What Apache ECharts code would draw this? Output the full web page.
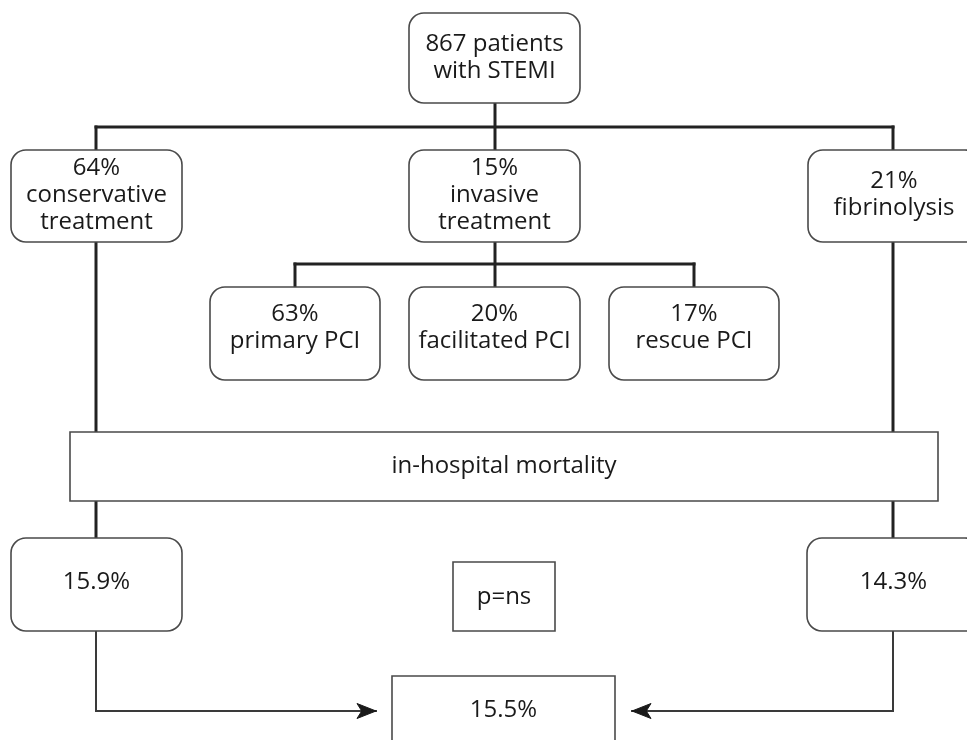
<!DOCTYPE html>
<html><head><meta charset="utf-8">
<script src="https://cdn.jsdelivr.net/npm/echarts@6/dist/echarts.min.js"></script>
<style>html,body{margin:0;padding:0;background:#fff}#c{width:967px;height:740px}</style>
</head><body><div id="c"></div>
<script>
// ---- data ----
const totalPatients = 867;
const diagnosis = 'STEMI';
const treatmentNames = ['conservative\ntreatment', 'invasive\ntreatment', 'fibrinolysis'];
const treatmentShares = [64, 15, 21];
const pciNames = ['primary PCI', 'facilitated PCI', 'rescue PCI'];
const pciShares = [63, 20, 17];
const outcomeName = 'in-hospital mortality';
const groupMortality = [15.9, 14.3]; // conservative, fibrinolysis
const overallMortality = 15.5;
const pValueText = 'p=ns';

// ---- layout (hidden axis units) ----
const boxLayout = {
  root:      [409, 13, 580, 103, 15, 0],
  cons:      [11, 150, 182, 242, 15, -1],
  inv:       [409, 150, 580, 242, 15, -1],
  fib:       [808, 150, 980, 242, 15, -1],
  pci0:      [210, 287, 380, 380, 15, -6],
  pci1:      [409, 287, 580, 380, 15, -6],
  pci2:      [609, 287, 779, 380, 15, -6],
  outcome:   [70, 432, 938, 501, 0, 0],
  mortCons:  [11, 538, 182, 631, 15, -2],
  mortFib:   [807, 538, 980, 631, 15, -2],
  pval:      [453, 562, 555, 631, 0, 1],
  overall:   [392, 676, 615, 770, 0, -13]
};
const thickLines = [
  [[495,103],[495,150]], [[96,127],[893,127]], [[96,127],[96,150]], [[893,127],[893,150]],
  [[495,242],[495,287]], [[295,264],[694,264]], [[295,264],[295,287]], [[694,264],[694,287]],
  [[96,242],[96,432]], [[893,242],[893,432]], [[96,501],[96,538]], [[893,501],[893,538]]
];
const arrowLines = [
  [[96,631],[96,711],[376,711]],
  [[893,631],[893,711],[632,711]]
];

const boxes = [
  {key:'root', text: totalPatients + ' patients\nwith ' + diagnosis},
  {key:'cons', text: treatmentShares[0] + '%\n' + treatmentNames[0]},
  {key:'inv',  text: treatmentShares[1] + '%\n' + treatmentNames[1]},
  {key:'fib',  text: treatmentShares[2] + '%\n' + treatmentNames[2]},
  {key:'pci0', text: pciShares[0] + '%\n' + pciNames[0]},
  {key:'pci1', text: pciShares[1] + '%\n' + pciNames[1]},
  {key:'pci2', text: pciShares[2] + '%\n' + pciNames[2]},
  {key:'outcome', text: outcomeName},
  {key:'mortCons', text: groupMortality[0].toFixed(1) + '%'},
  {key:'mortFib',  text: groupMortality[1].toFixed(1) + '%'},
  {key:'pval', text: pValueText},
  {key:'overall', text: overallMortality.toFixed(1) + '%'}
];

const FONT = '"Open Sans", "Noto Sans", sans-serif';
const chart = echarts.init(document.getElementById('c'), null, {renderer:'canvas'});

function lineSeries(list, width, color, arrow) {
  return {
    type: 'custom', coordinateSystem: 'cartesian2d', silent: true, z: 1, clip: false,
    data: list.map(l => [l[0][0], l[0][1]]),
    renderItem: function (params, api) {
      const pts = list[params.dataIndex].map(p => api.coord(p));
      const children = [{
        type: 'polyline', shape: {points: pts},
        style: {stroke: color, lineWidth: width, fill: 'none', lineJoin: 'miter', lineCap: 'square'}
      }];
      if (arrow) {
        const a = pts[pts.length - 2], b = pts[pts.length - 1];
        const dx = b[0] - a[0], dy = b[1] - a[1];
        const len = Math.sqrt(dx*dx + dy*dy) || 1;
        const ux = dx/len, uy = dy/len, L = 19, W = 7.5;
        const bx = b[0] - ux*L, by = b[1] - uy*L;
        children.push({
          type: 'polygon',
          shape: {points: [b, [bx - uy*W, by + ux*W], [b[0]-ux*L*0.75, b[1]-uy*L*0.75], [bx + uy*W, by - ux*W]]},
          style: {fill: '#1a1a1a', stroke: '#1a1a1a', lineWidth: 1}
        });
      }
      return {type: 'group', children: children};
    }
  };
}

chart.setOption({
  animation: false,
  backgroundColor: '#fff',
  grid: {left: 0, right: 0, top: 0, bottom: 0},
  xAxis: {type: 'value', min: 0, max: 967, show: false},
  yAxis: {type: 'value', min: 0, max: 740, inverse: true, show: false},
  series: [
    lineSeries(thickLines, 3, '#222', false),
    lineSeries(arrowLines, 2, '#3a3a3a', true),
    {
      type: 'custom', coordinateSystem: 'cartesian2d', silent: true, z: 2, clip: false,
      data: boxes.map(b => boxLayout[b.key].slice(0, 4)),
      renderItem: function (params, api) {
        const b = boxes[params.dataIndex];
        const L = boxLayout[b.key];
        const p0 = api.coord([api.value(0), api.value(1)]);
        const p1 = api.coord([api.value(2), api.value(3)]);
        const cx = (p0[0] + p1[0]) / 2;
        const cy = (p0[1] + p1[1]) / 2 + L[5];
        return {
          type: 'group',
          children: [
            {type: 'rect', shape: {x: p0[0], y: p0[1], width: p1[0]-p0[0], height: p1[1]-p0[1], r: L[4]},
             style: {fill: '#fff', stroke: '#4a4a4a', lineWidth: 1.6}},
            {type: 'text', style: {text: b.text, x: cx, y: cy, align: 'center', verticalAlign: 'middle',
              fontFamily: FONT, fontSize: 24, lineHeight: 27, fill: '#1a1a1a'}}
          ]
        };
      }
    }
  ]
});
</script></body></html>
